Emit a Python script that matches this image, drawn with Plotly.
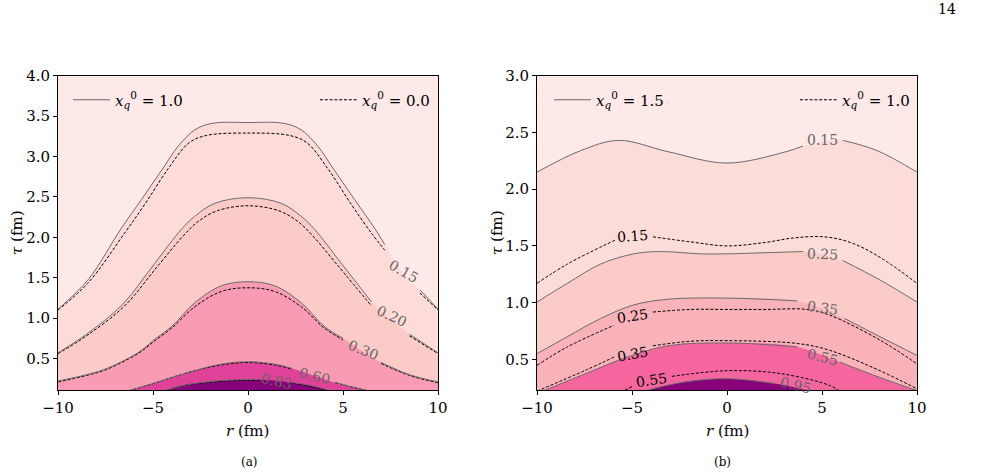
import plotly.graph_objects as go

# ---------------- data ----------------
# Panel (a): solid = x_q^0 = 1.0, dashed = x_q^0 = 0.0
a_s15_r = [-10, -8.4, -6.7, -5.6, -4.4, -3.7, -2.8, -1.9, 0, 1.9, 2.8, 3.7, 4.4, 5.6, 6.7, 7.2, 8.4, 9.05, 10]
a_s15_t = [1.11, 1.48, 2.10, 2.47, 2.88, 3.12, 3.33, 3.41, 3.42, 3.41, 3.33, 3.12, 2.88, 2.47, 2.10, 1.91, 1.48, 1.35, 1.11]
a_d15_r = [-10, -8.4, -6.5, -5.4, -4.2, -3.1, -2.2, 0, 2.2, 3.1, 4.2, 5.4, 6.5, 7.2, 8.4, 9.05, 10]
a_d15_t = [1.10, 1.44, 2.05, 2.42, 2.85, 3.17, 3.26, 3.29, 3.26, 3.17, 2.85, 2.42, 2.05, 1.84, 1.44, 1.31, 1.10]

a_s20_r = [-10, -8.5, -6.6, -4.9, -3.5, -2.8, -1.75, 0, 1.75, 2.8, 3.5, 4.9, 6.5, 8.5, 10]
a_s20_t = [0.57, 0.80, 1.17, 1.68, 2.10, 2.26, 2.42, 2.49, 2.42, 2.26, 2.10, 1.68, 1.20, 0.80, 0.57]
a_d20_r = [-10, -8.5, -6.5, -4.8, -3.4, -2.6, -1.6, 0, 1.6, 2.6, 3.4, 4.8, 6.5, 8.5, 10]
a_d20_t = [0.56, 0.78, 1.15, 1.63, 2.02, 2.20, 2.33, 2.39, 2.33, 2.20, 2.02, 1.63, 1.15, 0.78, 0.56]

a_s30_r = [-10, -8.5, -7.5, -5.8, -4.9, -4.0, -2.8, -1.4, 0, 1.4, 2.8, 4.0, 5.0, 7.0, 8.5, 10]
a_s30_t = [0.22, 0.30, 0.37, 0.57, 0.74, 0.90, 1.19, 1.40, 1.45, 1.40, 1.19, 0.90, 0.75, 0.45, 0.30, 0.21]
a_d30_r = [-10, -8.5, -7.5, -5.8, -4.9, -4.0, -2.8, -1.4, 0, 1.4, 2.8, 4.0, 5.0, 7.0, 8.5, 10]
a_d30_t = [0.21, 0.29, 0.36, 0.56, 0.72, 0.88, 1.14, 1.33, 1.375, 1.33, 1.14, 0.88, 0.73, 0.44, 0.29, 0.20]

a_s60_r = [-7.0, -5.0, -3.1, -1.4, 0, 1.4, 2.3, 4.6, 6.3, 7.5]
a_s60_t = [0.05, 0.19, 0.33, 0.43, 0.46, 0.43, 0.38, 0.20, 0.10, 0.04]
a_d60_r = [-7.0, -5.0, -3.1, -1.4, 0, 1.4, 2.3, 4.6, 6.3, 7.5]
a_d60_t = [0.05, 0.19, 0.33, 0.42, 0.45, 0.42, 0.37, 0.20, 0.10, 0.04]

a_s83_r = [-5.0, -3.5, -1.75, 0, 0.6, 2.4, 3.6, 5.0]
a_s83_t = [0.05, 0.16, 0.22, 0.24, 0.24, 0.20, 0.15, 0.05]
a_d83_r = [-5.0, -3.5, -1.75, 0, 0.6, 2.4, 3.6, 5.0]
a_d83_t = [0.05, 0.16, 0.21, 0.23, 0.23, 0.19, 0.14, 0.05]

a_levels = ["0.15", "0.20", "0.30", "0.60", "0.83"]
a_fill_colors = ["#fcdbd8", "#fbcbc7", "#f99bb3", "#e0429a", "#86007a"]
a_gaps = [(7.2, 9.05), (6.5, 8.5), (5.0, 7.0), (2.3, 4.6), (0.6, 2.4)]
a_label_r = [8.17, 7.56, 6.07, 3.5, 1.5]
a_label_t = [1.58, 1.02, 0.61, 0.28, 0.22]
a_label_angle = [30, 25, 22, 14, 12]

# Panel (b): solid = x_q^0 = 1.5, dashed = x_q^0 = 1.0
b_s15_r = [-10, -7.7, -5.7, -3.1, 0, 3.1, 4.0, 6.1, 7.9, 10]
b_s15_t = [2.15, 2.34, 2.43, 2.33, 2.23, 2.33, 2.38, 2.43, 2.34, 2.15]
b_s25_r = [-10, -8.4, -6.65, -4.9, -3.5, -1.4, 0, 2.0, 4.0, 6.1, 8.05, 10]
b_s25_t = [1.005, 1.17, 1.34, 1.43, 1.45, 1.43, 1.43, 1.44, 1.45, 1.37, 1.20, 1.005]
b_s35_r = [-10, -8.4, -6.65, -4.9, -3.1, 0, 3.7, 6.2, 8.05, 10]
b_s35_t = [0.55, 0.70, 0.86, 0.98, 1.03, 1.04, 1.015, 0.86, 0.70, 0.535]
b_s55_r = [-10, -7.5, -5.25, -3.1, 0, 3.7, 5.95, 8.05, 10]
b_s55_t = [0.20, 0.37, 0.52, 0.62, 0.645, 0.61, 0.475, 0.34, 0.225]
b_s95_r = [-4.4, -2.26, 0, 2.6, 4.4]
b_s95_t = [0.22, 0.30, 0.33, 0.285, 0.22]

b_d15_r = [-10, -8.4, -5.9, -3.9, -1.9, 0, 2.0, 3.5, 5.1, 6.5, 8.05, 10]
b_d15_t = [1.17, 1.34, 1.55, 1.58, 1.535, 1.50, 1.53, 1.57, 1.58, 1.53, 1.40, 1.17]
b_d25_r = [-10, -8.4, -5.95, -3.9, -1.9, 0, 2.0, 4.2, 5.4, 8.05, 10]
b_d25_t = [0.447, 0.61, 0.80, 0.917, 0.94, 0.94, 0.94, 0.94, 0.89, 0.67, 0.46]
b_d35_r = [-10, -7.5, -5.95, -3.9, -1.9, 0, 3.7, 5.4, 8.05, 10]
b_d35_t = [0.22, 0.40, 0.52, 0.62, 0.66, 0.665, 0.64, 0.58, 0.40, 0.24]
b_d55_r = [-5.6, -5.0, -2.9, 0, 2.8, 5.4, 6.0]
b_d55_t = [0.21, 0.26, 0.35, 0.40, 0.375, 0.27, 0.21]

b_solid_levels = ["0.15", "0.25", "0.35", "0.55", "0.95"]
b_fill_colors = ["#fcdcd9", "#fbcbc7", "#f9b2ba", "#f5669f", "#880179"]
b_solid_gaps = [(4.0, 6.1), (4.0, 6.1), (3.7, 6.2), (3.7, 5.95), (2.6, 4.4)]
b_solid_label_r = [5.05, 5.05, 5.05, 5.05, 3.6]
b_solid_label_t = [2.43, 1.43, 0.956, 0.52, 0.27]
b_solid_label_angle = [0, 3, 8, 14, 14]

b_dash_levels = ["0.15", "0.25", "0.35", "0.55"]
b_dash_gaps = [(-5.9, -3.9), (-5.95, -3.9), (-5.95, -3.9), (-5.0, -2.9)]
b_dash_label_r = [-4.95, -4.95, -4.95, -3.95]
b_dash_label_t = [1.59, 0.88, 0.55, 0.315]
b_dash_label_angle = [-4, -8, -10, -8]

legend_a = ["<i>x</i><sub><i>q</i></sub><sup>0</sup> = 1.0", "<i>x</i><sub><i>q</i></sub><sup>0</sup> = 0.0"]
legend_b = ["<i>x</i><sub><i>q</i></sub><sup>0</sup> = 1.5", "<i>x</i><sub><i>q</i></sub><sup>0</sup> = 1.0"]

x_ticks = [-10, -5, 0, 5, 10]
x_ticktext = ["\u221210", "\u22125", "0", "5", "10"]
a_yrange = [0.11, 4.0]
b_yrange = [0.23, 3.0]

# ---------------- styles ----------------
FONT = "DejaVu Serif"
SOLID = dict(color="#6b6b6b", width=1.0, shape="spline")
DASH = dict(color="#000000", width=1.0, shape="spline", dash="3px,1.8px")
BG = "#fde9e7"


def with_gap(r, t, gap):
    lo, hi = gap
    rr, tt = [], []
    inserted = False
    for a, b in zip(r, t):
        if lo < a < hi:
            continue
        if a >= hi and not inserted:
            rr.append(None)
            tt.append(None)
            inserted = True
        rr.append(a)
        tt.append(b)
    return rr, tt


fig = go.Figure()

a_solid = [(a_s15_r, a_s15_t), (a_s20_r, a_s20_t), (a_s30_r, a_s30_t), (a_s60_r, a_s60_t), (a_s83_r, a_s83_t)]
a_dash = [(a_d15_r, a_d15_t), (a_d20_r, a_d20_t), (a_d30_r, a_d30_t), (a_d60_r, a_d60_t), (a_d83_r, a_d83_t)]
b_solid = [(b_s15_r, b_s15_t), (b_s25_r, b_s25_t), (b_s35_r, b_s35_t), (b_s55_r, b_s55_t), (b_s95_r, b_s95_t)]
b_dash = [(b_d15_r, b_d15_t), (b_d25_r, b_d25_t), (b_d35_r, b_d35_t), (b_d55_r, b_d55_t)]

# filled bands
for (r, t), c in zip(a_solid, a_fill_colors):
    fig.add_trace(go.Scatter(x=r, y=t, mode="lines", line=dict(width=0, shape="spline"),
                             fill="tozeroy", fillcolor=c, hoverinfo="skip", showlegend=False,
                             xaxis="x", yaxis="y"))
for (r, t), c in zip(b_solid, b_fill_colors):
    fig.add_trace(go.Scatter(x=r, y=t, mode="lines", line=dict(width=0, shape="spline"),
                             fill="tozeroy", fillcolor=c, hoverinfo="skip", showlegend=False,
                             xaxis="x2", yaxis="y2"))

# panel (a) lines
for i, ((r, t), gap) in enumerate(zip(a_dash, a_gaps)):
    rr, tt = with_gap(r, t, gap)
    fig.add_trace(go.Scatter(x=rr, y=tt, mode="lines", line=DASH, name=legend_a[1],
                             showlegend=(i == 0), legend="legend2", xaxis="x", yaxis="y"))
for i, ((r, t), gap) in enumerate(zip(a_solid, a_gaps)):
    rr, tt = with_gap(r, t, gap)
    fig.add_trace(go.Scatter(x=rr, y=tt, mode="lines", line=SOLID, name=legend_a[0],
                             showlegend=(i == 0), legend="legend", xaxis="x", yaxis="y"))

# panel (b) lines
for i, ((r, t), gap) in enumerate(zip(b_dash, b_dash_gaps)):
    rr, tt = with_gap(r, t, gap)
    fig.add_trace(go.Scatter(x=rr, y=tt, mode="lines", line=DASH, name=legend_b[1],
                             showlegend=(i == 0), legend="legend4", xaxis="x2", yaxis="y2"))
for i, ((r, t), gap) in enumerate(zip(b_solid, b_solid_gaps)):
    rr, tt = with_gap(r, t, gap)
    fig.add_trace(go.Scatter(x=rr, y=tt, mode="lines", line=SOLID, name=legend_b[0],
                             showlegend=(i == 0), legend="legend3", xaxis="x2", yaxis="y2"))

LBL = 14
annotations = []
for txt, r, t, ang in zip(a_levels, a_label_r, a_label_t, a_label_angle):
    annotations.append(dict(x=r, y=t, xref="x", yref="y", text=txt, showarrow=False,
                            xanchor="center", yanchor="middle",
                            textangle=ang, font=dict(family=FONT, size=LBL, color="#666666")))
for txt, r, t, ang in zip(b_solid_levels, b_solid_label_r, b_solid_label_t, b_solid_label_angle):
    annotations.append(dict(x=r, y=t, xref="x2", yref="y2", text=txt, showarrow=False,
                            xanchor="center", yanchor="middle",
                            textangle=ang, font=dict(family=FONT, size=LBL, color="#666666")))
for txt, r, t, ang in zip(b_dash_levels, b_dash_label_r, b_dash_label_t, b_dash_label_angle):
    annotations.append(dict(x=r, y=t, xref="x2", yref="y2", text=txt, showarrow=False,
                            xanchor="center", yanchor="middle",
                            textangle=ang, font=dict(family=FONT, size=LBL, color="#000000")))

W, H = 983, 474


def px(x):
    return x / W


def py(y):
    return 1 - y / H


def paper_text(xc, yc, text, size, angle=0):
    return dict(x=px(xc), y=py(yc), xref="paper", yref="paper", text=text, showarrow=False,
                xanchor="center", yanchor="middle", textangle=angle,
                font=dict(family=FONT, size=size, color="black"))


for xc in [248, 727]:
    annotations.append(paper_text(xc, 431, "<i>r</i> (fm)", 15))
for xc in [17, 497]:
    annotations.append(paper_text(xc, 233, "<i>\u03c4</i> (fm)", 15, -90))
annotations.append(paper_text(249, 462, "(a)", 12))
annotations.append(paper_text(722, 462, "(b)", 12))
annotations.append(paper_text(947, 9, "14", 14))

axis_common = dict(showgrid=False, zeroline=False, showline=True, linecolor="black", linewidth=1,
                   mirror=True, ticks="outside", ticklen=4, tickwidth=1, tickcolor="black",
                   automargin=False,
                   tickfont=dict(family=FONT, size=15, color="black"))

legend_common = dict(bgcolor="rgba(0,0,0,0)", borderwidth=0, itemwidth=37,
                     font=dict(family=FONT, size=15, color="black"),
                     xanchor="left", yanchor="middle", orientation="h")

fig.update_layout(
    width=W, height=H, margin=dict(l=0, r=0, t=0, b=0, autoexpand=False),
    paper_bgcolor="white", plot_bgcolor=BG,
    xaxis=dict(domain=[px(58), px(438)], range=[-10, 10], tickvals=x_ticks, ticktext=x_ticktext,
               anchor="y", **axis_common),
    yaxis=dict(domain=[py(390), py(75.7)], range=a_yrange, tick0=0.5, dtick=0.5, tickformat=".1f",
               anchor="x", **axis_common),
    xaxis2=dict(domain=[px(537), px(917)], range=[-10, 10], tickvals=x_ticks, ticktext=x_ticktext,
                anchor="y2", **axis_common),
    yaxis2=dict(domain=[py(390), py(75.7)], range=b_yrange, tick0=0.5, dtick=0.5, tickformat=".1f",
                anchor="x2", **axis_common),
    legend=dict(x=px(68), y=py(100), **legend_common),
    legend2=dict(x=px(315), y=py(100), **legend_common),
    legend3=dict(x=px(549), y=py(100), **legend_common),
    legend4=dict(x=px(795), y=py(100), **legend_common),
    annotations=annotations,
    showlegend=True,
)

fig.write_html("out.html")
